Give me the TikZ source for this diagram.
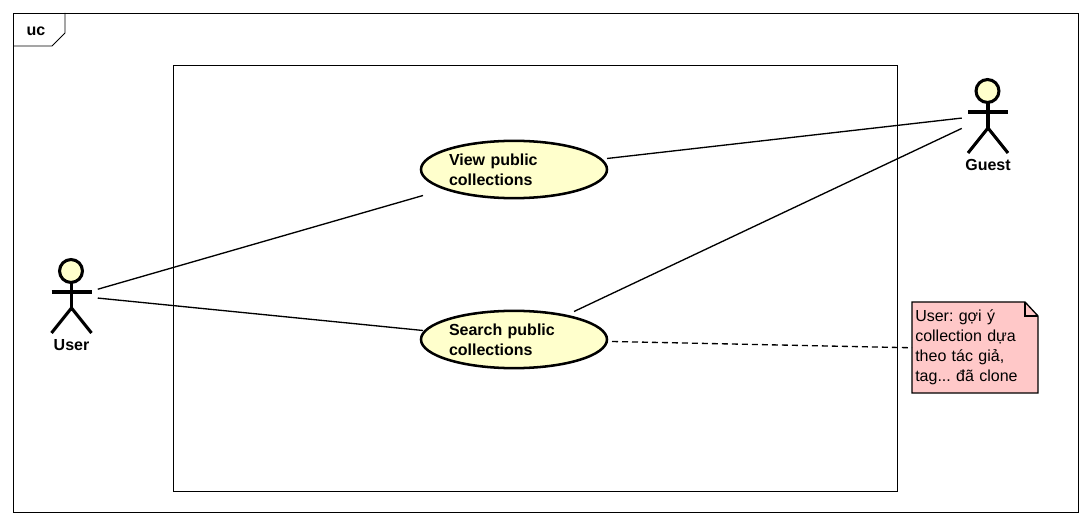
\documentclass[tikz,border=0pt]{standalone}
\usepackage{fontspec}
\setmainfont{Liberation Sans}
\frenchspacing
\usetikzlibrary{positioning,calc,shapes.geometric}
\definecolor{ucfill}{HTML}{FFFFCC}
\definecolor{notefill}{HTML}{FFC8C8}
\tikzset{
  usecase/.style={ellipse, draw, line width=1.9pt, fill=ucfill, minimum width=139.5pt, minimum height=43pt, inner sep=0pt, text width=97.5pt, align=left, font=\fontsize{12}{15}\selectfont\bfseries},
  actorbox/.style={rectangle, minimum width=39pt, minimum height=60pt, inner sep=0pt},
  actorlabel/.style={font=\fontsize{12}{15}\selectfont\bfseries, inner sep=0pt},
  assoc/.style={line width=1pt},
  notebox/.style={rectangle, anchor=north west, minimum width=94.5pt, minimum height=68.25pt, inner xsep=2.25pt, inner ysep=0pt, text width=90pt, align=left, font=\fontsize{12}{15}\selectfont}
}
\newcommand{\actor}[3]{
  \node [actorbox] (#1) at (#2) {};
  \begin{scope}[shift={(#2)}, line width=2.3pt]
    \draw[fill=ucfill] (-0.5,-21) circle [radius=8.6pt];
    \draw (0,-9) -- (0,16);
    \draw (-20,0) -- (20,0);
    \draw (-20,41) -- (0,16) -- (20,41);
  \end{scope}
  \node [actorlabel, below=39.5pt of #1.center, anchor=center] (#1Label) {#3};
}

\begin{document}
\begin{tikzpicture}[x=0.75pt, y=-0.75pt]
\path[use as bounding box, fill=white] (0,0) rectangle (1090,524);

\draw[line width=0.7pt] (13,13) rectangle (1078,512);
\draw[line width=0.7pt] (65,13) -- (65,33) -- (52,46) -- (13,46);
\node [font=\fontsize{12}{15}\selectfont\bfseries, inner sep=0pt] (frameTag) at (36,31) {uc};
\draw[line width=0.7pt] (173,65) rectangle (897,491);

\node [usecase] (viewUC) at (514,169.5) {View public\\collections};
\node [usecase] (searchUC) at (514,339.5) {Search public\\collections};

\actor{user}{71.5,292}{User}
\actor{guest}{988,112}{Guest}

\draw[fill=notefill, line width=1pt] (912,302) -- (1025,302) -- (1038,316) -- (1038,393) -- (912,393) -- cycle;
\draw[line width=1pt] (1025,302) -- (1025,316) -- (1038,316);
\node [notebox] (noteBox) at (912,302) {User: gợi ý\\collection dựa\\theo tác giả,\\tag... đã clone};

\draw[assoc] (user.6.6) -- ([shift={(-91,26)}]viewUC.center);
\draw[assoc] (user.347) -- ([shift={(-91,-9)}]searchUC.center);
\draw[assoc] ([shift={(93,-11)}]viewUC.center) -- (guest.193);
\draw[assoc] ([shift={(60,-28)}]searchUC.center) -- (guest.212.6);
\draw[assoc, dash pattern=on 4.5pt off 3pt] ([shift={(98,2)}]searchUC.center) -- (noteBox.west);

\end{tikzpicture}
\end{document}
